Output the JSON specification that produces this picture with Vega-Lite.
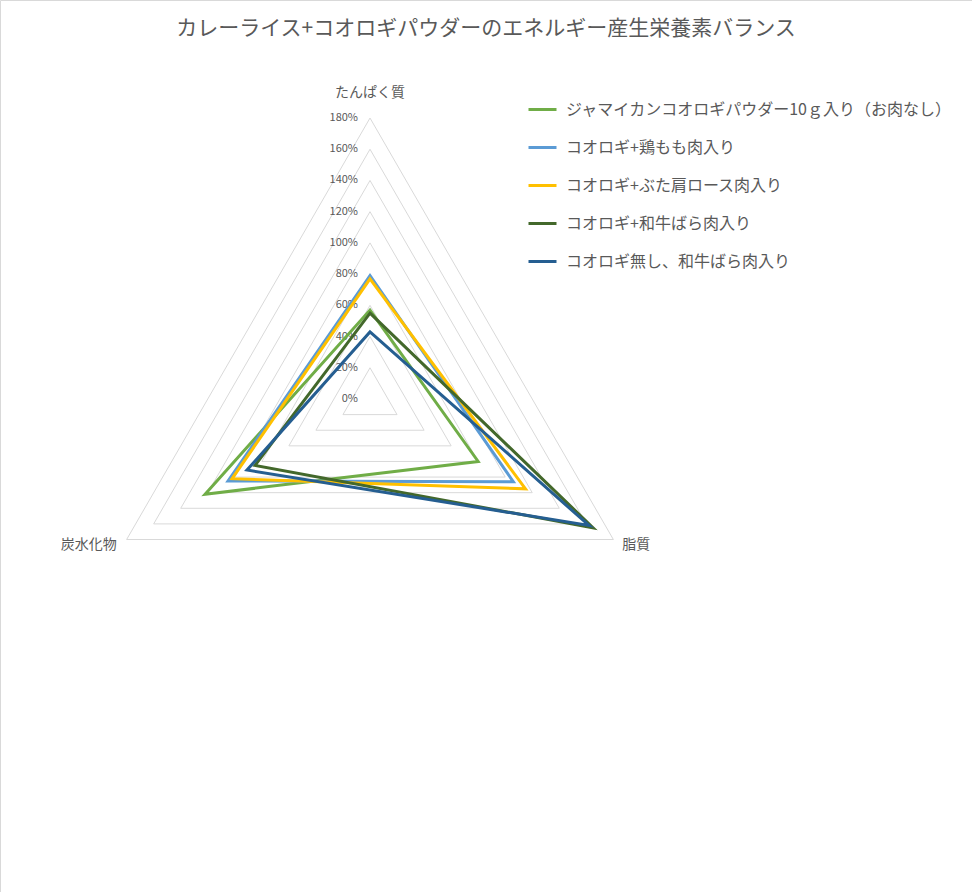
{
  "$schema": "https://vega.github.io/schema/vega-lite/v6.json",
  "width": 972,
  "height": 892,
  "autosize": "none",
  "padding": 0,
  "background": "white",
  "title": {
    "text": "カレーライス+コオロギパウダーのエネルギー産生栄養素バランス",
    "anchor": "middle",
    "frame": "group",
    "offset": 0,
    "dy": 39,
    "fontSize": 21,
    "fontWeight": "normal",
    "color": "#595959"
  },
  "datasets": {
    "nutrition": [
      {"series": "ジャマイカンコオロギパウダー10ｇ入り（お肉なし）", "axis": "たんぱく質", "value": 57},
      {"series": "ジャマイカンコオロギパウダー10ｇ入り（お肉なし）", "axis": "脂質", "value": 80},
      {"series": "ジャマイカンコオロギパウダー10ｇ入り（お肉なし）", "axis": "炭水化物", "value": 122},
      {"series": "コオロギ+鶏もも肉入り", "axis": "たんぱく質", "value": 79},
      {"series": "コオロギ+鶏もも肉入り", "axis": "脂質", "value": 106},
      {"series": "コオロギ+鶏もも肉入り", "axis": "炭水化物", "value": 105},
      {"series": "コオロギ+ぶた肩ロース肉入り", "axis": "たんぱく質", "value": 77},
      {"series": "コオロギ+ぶた肩ロース肉入り", "axis": "脂質", "value": 115},
      {"series": "コオロギ+ぶた肩ロース肉入り", "axis": "炭水化物", "value": 102},
      {"series": "コオロギ+和牛ばら肉入り", "axis": "たんぱく質", "value": 55},
      {"series": "コオロギ+和牛ばら肉入り", "axis": "脂質", "value": 165},
      {"series": "コオロギ+和牛ばら肉入り", "axis": "炭水化物", "value": 85},
      {"series": "コオロギ無し、和牛ばら肉入り", "axis": "たんぱく質", "value": 43},
      {"series": "コオロギ無し、和牛ばら肉入り", "axis": "脂質", "value": 162},
      {"series": "コオロギ無し、和牛ばら肉入り", "axis": "炭水化物", "value": 91}
    ],
    "levels": [
      {"level": 0}, {"level": 20}, {"level": 40}, {"level": 60}, {"level": 80},
      {"level": 100}, {"level": 120}, {"level": 140}, {"level": 160}, {"level": 180}
    ],
    "axes": [
      {"axis": "たんぱく質", "r": 180},
      {"axis": "脂質", "r": 180},
      {"axis": "炭水化物", "r": 180}
    ]
  },
  "layer": [
    {
      "data": {"name": "levels"},
      "transform": [
        {"filter": "datum.level > 0"},
        {"calculate": "0", "as": "x"},
        {"calculate": "datum.level", "as": "y"},
        {"calculate": "datum.level * cos(PI / 6)", "as": "x2"},
        {"calculate": "-datum.level / 2", "as": "y2"}
      ],
      "mark": {"type": "rule", "color": "#D9D9D9", "strokeWidth": 1},
      "encoding": {
        "x": {"field": "x", "type": "quantitative", "scale": {"domain": [-237.0, 385.6], "nice": false, "zero": false}, "axis": null},
        "y": {"field": "y", "type": "quantitative", "scale": {"domain": [-315.8, 255.6], "nice": false, "zero": false}, "axis": null},
        "x2": {"field": "x2"},
        "y2": {"field": "y2"}
      }
    },
    {
      "data": {"name": "levels"},
      "transform": [
        {"filter": "datum.level > 0"},
        {"calculate": "datum.level * cos(PI / 6)", "as": "x"},
        {"calculate": "-datum.level / 2", "as": "y"},
        {"calculate": "-datum.level * cos(PI / 6)", "as": "x2"},
        {"calculate": "-datum.level / 2", "as": "y2"}
      ],
      "mark": {"type": "rule", "color": "#D9D9D9", "strokeWidth": 1},
      "encoding": {
        "x": {"field": "x", "type": "quantitative"},
        "y": {"field": "y", "type": "quantitative"},
        "x2": {"field": "x2"},
        "y2": {"field": "y2"}
      }
    },
    {
      "data": {"name": "levels"},
      "transform": [
        {"filter": "datum.level > 0"},
        {"calculate": "-datum.level * cos(PI / 6)", "as": "x"},
        {"calculate": "-datum.level / 2", "as": "y"},
        {"calculate": "0", "as": "x2"},
        {"calculate": "datum.level", "as": "y2"}
      ],
      "mark": {"type": "rule", "color": "#D9D9D9", "strokeWidth": 1},
      "encoding": {
        "x": {"field": "x", "type": "quantitative"},
        "y": {"field": "y", "type": "quantitative"},
        "x2": {"field": "x2"},
        "y2": {"field": "y2"}
      }
    },
    {
      "data": {"name": "levels"},
      "transform": [
        {"calculate": "0", "as": "x"},
        {"calculate": "datum.level + '%'", "as": "label"}
      ],
      "mark": {"type": "text", "align": "right", "baseline": "middle", "dx": -12, "fontSize": 11, "color": "#595959"},
      "encoding": {
        "x": {"field": "x", "type": "quantitative"},
        "y": {"field": "level", "type": "quantitative"},
        "text": {"field": "label"}
      }
    },
    {
      "data": {"name": "nutrition"},
      "transform": [
        {"calculate": "indexof(['たんぱく質', '脂質', '炭水化物'], datum.axis)", "as": "i"},
        {"calculate": "PI / 2 - datum.i * 2 * PI / 3", "as": "ang"},
        {"calculate": "datum.value * cos(datum.ang)", "as": "x"},
        {"calculate": "datum.value * sin(datum.ang)", "as": "y"}
      ],
      "mark": {"type": "line", "interpolate": "linear-closed", "strokeWidth": 3, "strokeJoin": "miter"},
      "encoding": {
        "x": {"field": "x", "type": "quantitative"},
        "y": {"field": "y", "type": "quantitative"},
        "order": {"field": "i"},
        "color": {
          "field": "series",
          "type": "nominal",
          "scale": {
            "domain": [
              "ジャマイカンコオロギパウダー10ｇ入り（お肉なし）",
              "コオロギ+鶏もも肉入り",
              "コオロギ+ぶた肩ロース肉入り",
              "コオロギ+和牛ばら肉入り",
              "コオロギ無し、和牛ばら肉入り"
            ],
            "range": ["#70AD47", "#5B9BD5", "#FFC000", "#43682B", "#255E91"]
          },
          "legend": {
            "title": null,
            "orient": "none",
            "legendX": 527,
            "legendY": 94,
            "symbolType": "stroke",
            "symbolSize": 784,
            "symbolStrokeWidth": 3,
            "labelFontSize": 16,
            "labelColor": "#595959",
            "labelOffset": 8,
            "labelLimit": 500,
            "rowPadding": 14
          }
        }
      }
    },
    {
      "data": {"name": "axes"},
      "transform": [
        {"filter": "datum.axis == 'たんぱく質'"},
        {"calculate": "0", "as": "x"}
      ],
      "mark": {"type": "text", "align": "center", "baseline": "middle", "dy": -25, "fontSize": 14, "color": "#595959"},
      "encoding": {
        "x": {"field": "x", "type": "quantitative"},
        "y": {"field": "r", "type": "quantitative"},
        "text": {"field": "axis"}
      }
    },
    {
      "data": {"name": "axes"},
      "transform": [
        {"filter": "datum.axis == '脂質'"},
        {"calculate": "datum.r * cos(PI / 6)", "as": "x"},
        {"calculate": "-datum.r / 2", "as": "y"}
      ],
      "mark": {"type": "text", "align": "left", "baseline": "middle", "dx": 9, "dy": 5, "fontSize": 14, "color": "#595959"},
      "encoding": {
        "x": {"field": "x", "type": "quantitative"},
        "y": {"field": "y", "type": "quantitative"},
        "text": {"field": "axis"}
      }
    },
    {
      "data": {"name": "axes"},
      "transform": [
        {"filter": "datum.axis == '炭水化物'"},
        {"calculate": "-datum.r * cos(PI / 6)", "as": "x"},
        {"calculate": "-datum.r / 2", "as": "y"}
      ],
      "mark": {"type": "text", "align": "right", "baseline": "middle", "dx": -10, "dy": 5, "fontSize": 14, "color": "#595959"},
      "encoding": {
        "x": {"field": "x", "type": "quantitative"},
        "y": {"field": "y", "type": "quantitative"},
        "text": {"field": "axis"}
      }
    }
  ],
  "config": {
    "font": "Noto Sans CJK JP",
    "view": {"stroke": "#D9D9D9"}
  }
}
